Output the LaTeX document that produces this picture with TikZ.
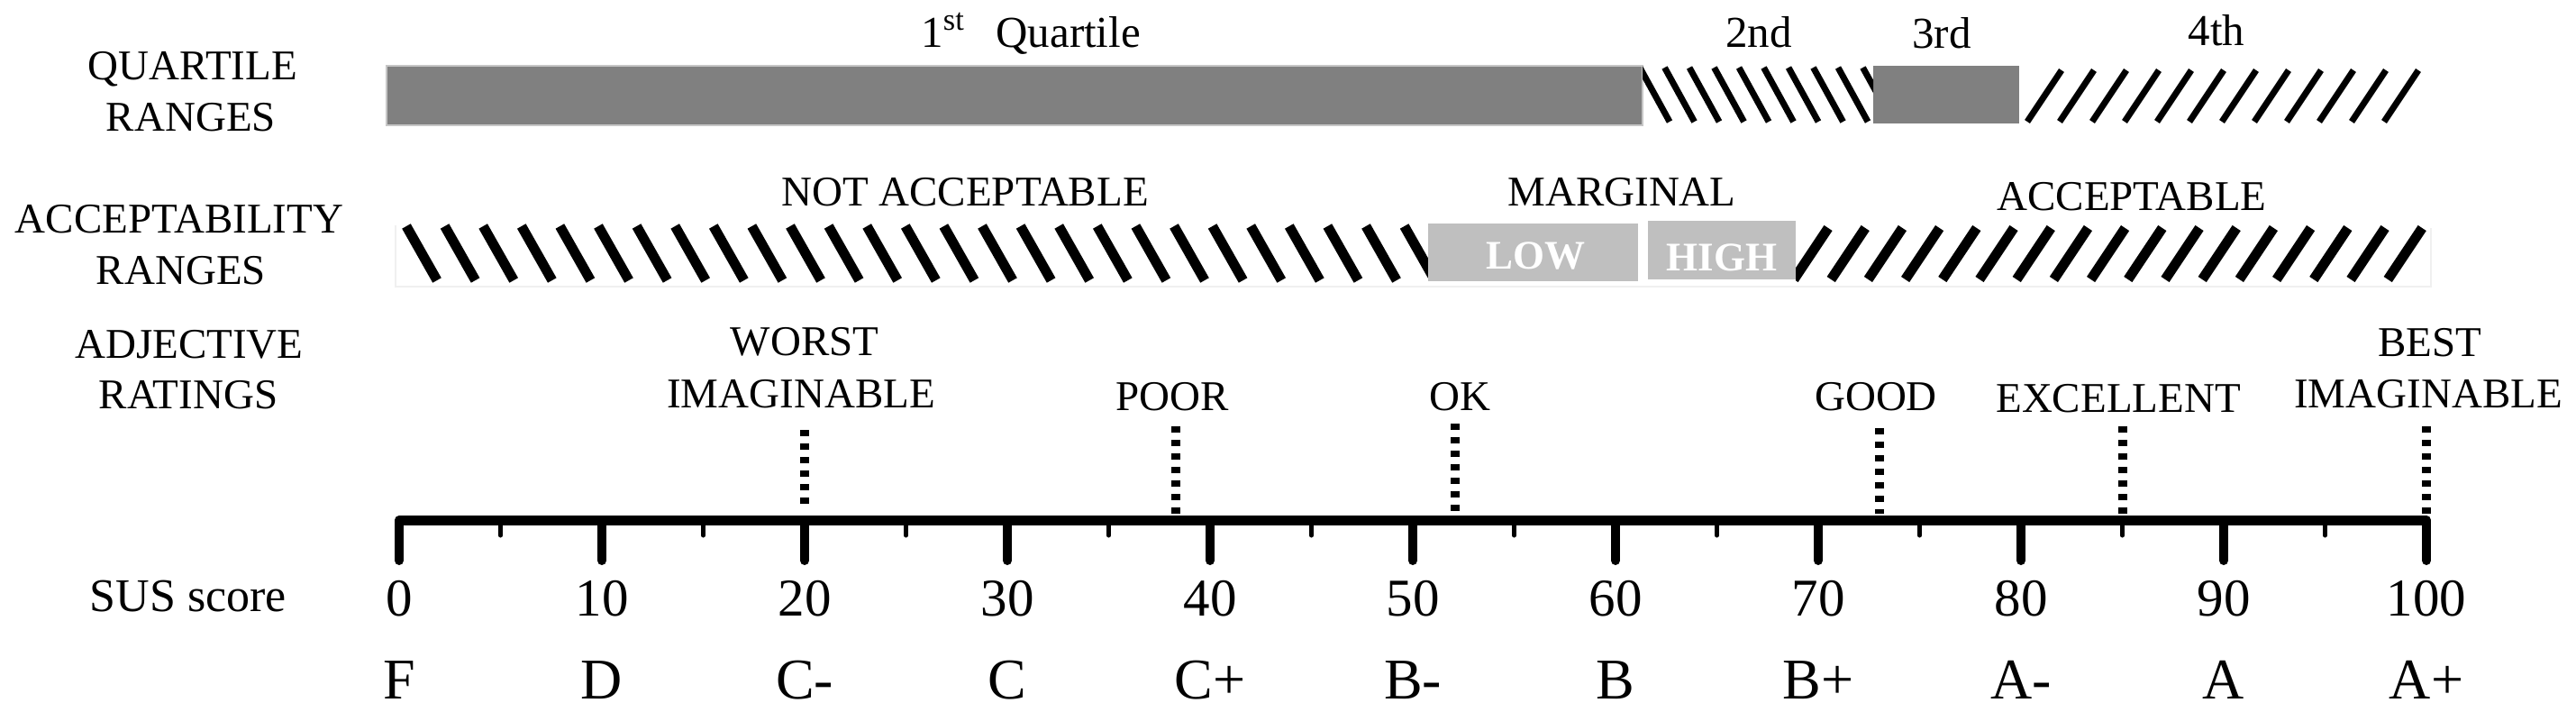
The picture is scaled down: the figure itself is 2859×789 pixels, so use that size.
\documentclass[tikz,border=0pt]{standalone}
\usepackage{fontspec}
\setmainfont{Liberation Serif}
\definecolor{darkbar}{HTML}{808080}
\definecolor{lightbar}{HTML}{BFBFBF}
\definecolor{faint}{HTML}{F0F0F0}
\begin{document}
\begin{tikzpicture}[x=0.5pt,y=-0.5pt,
  lab/.style={font=\fontsize{23.5}{28}\selectfont, inner sep=0pt, anchor=base},
  qlab/.style={font=\fontsize{24.5}{29}\selectfont, inner sep=0pt, anchor=base},
  boxlab/.style={font=\bfseries\fontsize{22.5}{27}\selectfont, text=white, inner sep=0pt, anchor=base},
  num/.style={font=\fontsize{29.5}{34}\selectfont, inner sep=0pt, anchor=base},
  grade/.style={font=\fontsize{32}{38}\selectfont, inner sep=0pt, anchor=base},
  qhatch/.style={line width=3.5pt, line cap=butt},
  ahatch/.style={line width=5.5pt, line cap=butt},
  majortick/.style={line width=5pt, line cap=round},
  minortick/.style={line width=2.5pt, line cap=round},
  dotline/.style={line width=5pt, dash pattern=on 3.6pt off 3.9pt}]
\useasboundingbox (0,0) rectangle (2859,789);
\fill[white] (0,0) rectangle (2859,789);

% ---------- row labels
\node[lab] (qr1) at (214,88) {QUARTILE};
\node[lab] (qr2) at (212,145) {RANGES};
\node[lab] (ar1) at (199,258) {ACCEPTABILITY};
\node[lab] (ar2) at (201,315) {RANGES};
\node[lab] (ad1) at (210,397) {ADJECTIVE};
\node[lab] (ad2) at (209,453) {RATINGS};
\node[lab, font=\fontsize{26}{31}\selectfont] (sus) at (209,678) {SUS score};

% ---------- quartile ranges
\fill[darkbar, draw=gray!45, line width=0.6pt] (429,73) rectangle (1823,139);
\fill[darkbar] (2079,73) rectangle (2241,137);
\begin{scope}
  \clip (1823,60) rectangle (2079,150);
  \foreach \k in {0,...,9} \draw[qhatch] ({1820+27.5*\k},75) -- ++(33,60);
\end{scope}
\begin{scope}
  \clip (2241,60) rectangle (2710,150);
  \foreach \k in {0,...,11} \draw[qhatch] ({2250+36*\k},135) -- ++(38,-57);
\end{scope}
\node[qlab, anchor=base west] (q1a) at (1022,52) {1\textsuperscript{st}};
\node[qlab, anchor=base west] (q1b) at (1105,52) {Quartile};
\node[qlab] (q2) at (1952,52) {2nd};
\node[qlab] (q3) at (2155,53) {3rd};
\node[qlab] (q4) at (2460,50) {4th};

% ---------- acceptability ranges
\draw[faint, line width=0.6pt] (439,250) -- (439,318) -- (2698,318) -- (2698,253);
\begin{scope}
  \clip (441,240) rectangle (1585,320);
  \foreach \k in {0,...,26} \draw[ahatch] ({451+42.6*\k},251) -- ++(34,60);
\end{scope}
\begin{scope}
  \clip (1993,240) rectangle (2698,320);
  \foreach \k in {0,...,16} \draw[ahatch] ({1991+41.2*\k},310) -- ++(38,-57);
\end{scope}
\fill[lightbar] (1585,248) rectangle (1818,312);
\fill[lightbar] (1829,245) rectangle (1993,310);
\node[boxlab] (low) at (1704,298) {LOW};
\node[boxlab] (high) at (1911,300) {HIGH};
\node[lab] (nacc) at (1071,228) {NOT ACCEPTABLE};
\node[lab] (marg) at (1800,228) {MARGINAL};
\node[lab] (acc) at (2366,233) {ACCEPTABLE};

% ---------- adjective ratings
\node[lab] (worst1) at (893,394) {WORST};
\node[lab] (worst2) at (889,452) {IMAGINABLE};
\node[lab] (poor) at (1301,455) {POOR};
\node[lab] (ok) at (1620,455) {OK};
\node[lab] (good) at (2082,455) {GOOD};
\node[lab] (exc) at (2351,457) {EXCELLENT};
\node[lab] (best1) at (2697,395) {BEST};
\node[lab] (best2) at (2695,452) {IMAGINABLE};

\foreach \s/\t/\b in {20/477/562, 38.3/473/570, 52.1/470/567, 73/475/570, 85/473/570, 100/473/570}
  \draw[dotline] ({443+22.5*\s},\t) -- ({443+22.5*\s},\b);

% ---------- SUS axis
\draw[line width=5.5pt] (443,577) -- (2693,577);
\foreach \v in {5,15,...,95} \draw[minortick] ({443+22.5*\v},577) -- ({443+22.5*\v},594);
\foreach \v in {0,10,...,100} \draw[majortick] ({443+22.5*\v},577) -- ({443+22.5*\v},622);

\foreach \v in {0,10,...,100} \node[num] (n\v) at ({443+22.5*\v},683) {\v};

\foreach \v/\g in {0/F,10/D,20/C-,30/C,40/C+,50/B-,60/B,70/B+,80/A-,90/A,100/A+}
  \node[grade] (g\v) at ({443+22.5*\v},775) {\g};
\end{tikzpicture}
\end{document}
